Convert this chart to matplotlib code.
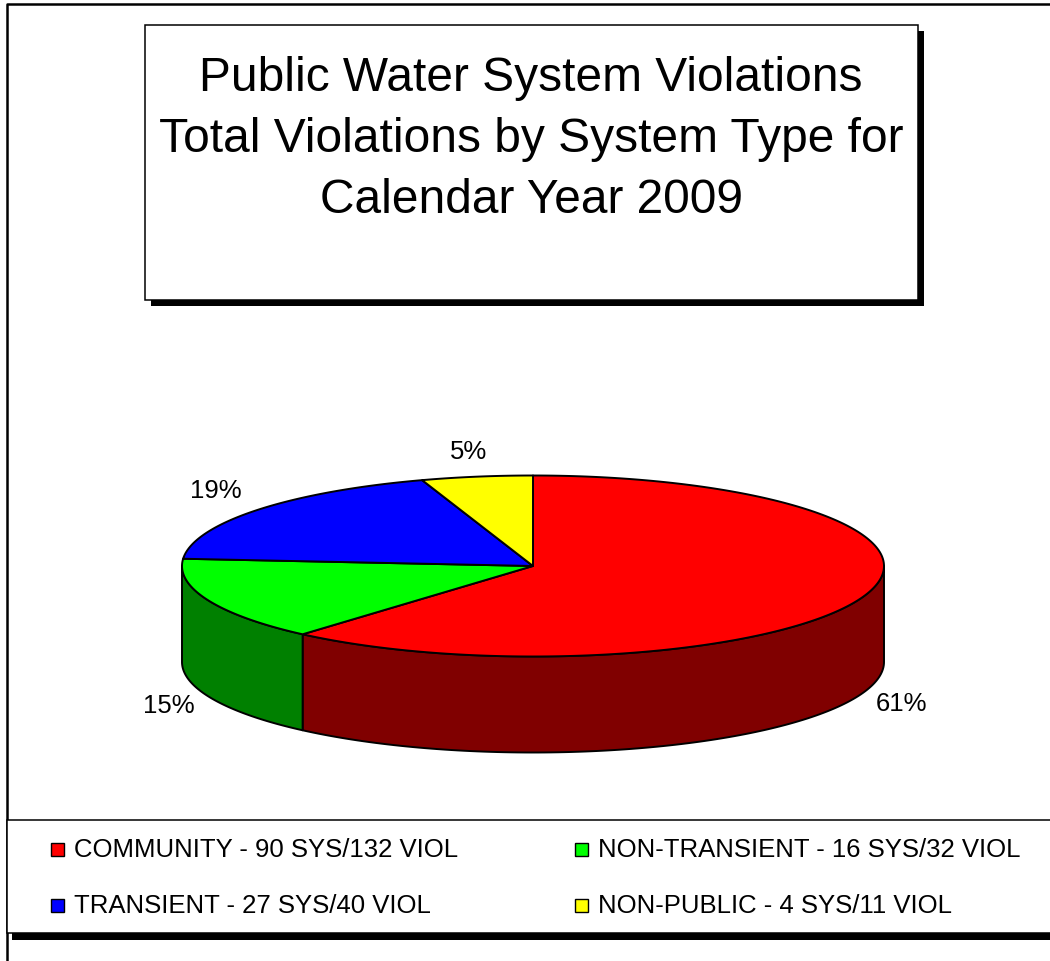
import numpy as np
import matplotlib
matplotlib.use("Agg")
import matplotlib.pyplot as plt
from matplotlib.patches import Rectangle, Polygon

plt.rcParams["font.family"] = ["Liberation Sans", "DejaVu Sans"]

# ---------------- data ----------------
categories = ["COMMUNITY", "NON-TRANSIENT", "TRANSIENT", "NON-PUBLIC"]
systems = [90, 16, 27, 4]
violations = [132, 32, 40, 11]
top_colors = ["#FF0000", "#00FF00", "#0000FF", "#FFFF00"]
side_colors = ["#800000", "#008000", "#000080", "#808000"]
title_lines = ["Public Water System Violations",
               "Total Violations by System Type for",
               "Calendar Year 2009"]

# ---------------- figure (pixel coords) ----------------
W, H = 1050, 962
fig = plt.figure(figsize=(W / 100, H / 100), dpi=100)
ax = fig.add_axes([0, 0, 1, 1])
ax.set_xlim(0, W)
ax.set_ylim(H, 0)
ax.axis("off")

# outer chart frame
ax.plot([7, 7, W + 5], [H + 5, 5, 5], color="black", lw=1.8, zorder=1)

# title box with shadow
ax.add_patch(Rectangle((151, 32), 773, 275, facecolor="black", edgecolor="none", zorder=2))
ax.add_patch(Rectangle((145, 26), 773, 275, facecolor="white", edgecolor="black", lw=1.1, zorder=3))
for i, line in enumerate(title_lines):
    ax.text(531, 91 + 61 * i, line, fontsize=34.5, ha="center", va="baseline", zorder=4)

# ---------------- 3D-ish pie ----------------
cx, cy, rx, ry, depth = 533, 567, 351, 90.5, 96
vals = np.array(violations, dtype=float)
fracs = vals / vals.sum()
bounds = 90 - 360 * np.concatenate([[0], np.cumsum(fracs)])


def ell(t, dy=0):
    t = np.radians(t)
    return np.column_stack([cx + rx * np.cos(t), cy - ry * np.sin(t) + dy])


# side walls (front half only: angle in [-180, 0])
for i in range(len(vals)):
    t0, t1 = bounds[i], bounds[i + 1]
    a, b = min(t0, 0), max(t1, -180)
    if a <= b:
        continue
    ts = np.linspace(a, b, 120)
    pts = np.vstack([ell(ts), ell(ts[::-1], depth)])
    ax.add_patch(Polygon(pts, closed=True, facecolor=side_colors[i],
                         edgecolor="black", lw=1.4, joinstyle="round", zorder=5))

# top faces
for i in range(len(vals)):
    ts = np.linspace(bounds[i], bounds[i + 1], 200)
    pts = np.vstack([[cx, cy], ell(ts)])
    ax.add_patch(Polygon(pts, closed=True, facecolor=top_colors[i],
                         edgecolor="black", lw=1.4, joinstyle="round", zorder=6))

# percentage labels
for i in range(len(vals)):
    mid = np.radians((bounds[i] + bounds[i + 1]) / 2)
    front = np.sin(mid) < 0
    k = 1.12 if front else 1.15
    lx = cx + rx * k * np.cos(mid)
    ly = cy - ry * k * np.sin(mid)
    ly += depth + 5 if front else -12
    ax.text(lx, ly, f"{fracs[i] * 100:.0f}%", fontsize=18.5,
            ha="center", va="center", zorder=7)

# ---------------- legend box ----------------
ax.add_patch(Rectangle((12, 827), W, 114, facecolor="black", edgecolor="none", zorder=2))
ax.add_patch(Rectangle((7, 821), W + 10, 113, facecolor="white", edgecolor="black", lw=1.1, zorder=3))

col_x = [51, 575]
row_y = [857, 913]
for i, name in enumerate(categories):
    x0 = col_x[i % 2]
    y0 = row_y[i // 2]
    ax.add_patch(Rectangle((x0, y0 - 13), 13, 13, facecolor=top_colors[i],
                           edgecolor="black", lw=1.0, zorder=4))
    ax.text(x0 + 23, y0, f"{name} - {systems[i]} SYS/{violations[i]} VIOL",
            fontsize=18.5, ha="left", va="baseline", zorder=4)

fig.savefig("out.png", dpi=100)
